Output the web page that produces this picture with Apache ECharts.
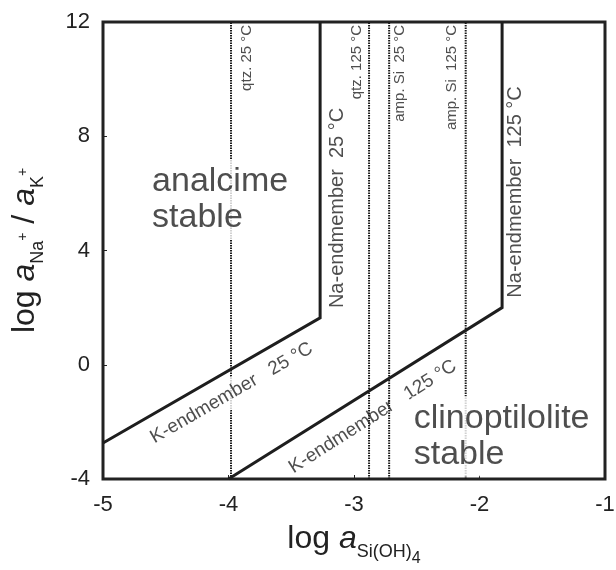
<!DOCTYPE html>
<html>
<head>
<meta charset="utf-8">
<script src="https://cdn.jsdelivr.net/npm/echarts@6/dist/echarts.min.js"></script>
<style>
html, body { margin: 0; padding: 0; background: #fff; }
#main { width: 616px; height: 570px; }
</style>
</head>
<body>
<div id="main"></div>
<script>
var myChart = echarts.init(document.getElementById('main'));

// axis ranges / ticks
var xRange = [-5, -1];
var yRange = [-4, 12];

// silica saturation lines (log a Si(OH)4)
var silicaNames = ['qtz. 25 °C', 'qtz. 125 °C', 'amp. Si 25 °C', 'amp. Si 125 °C'];
var silicaValues = [-3.98, -2.88, -2.72, -2.11];

// analcime / clinoptilolite boundaries: [log a Si(OH)4, log aNa+/aK+]
var boundary25 = [[-3.27, 12], [-3.27, 1.64], [-5, -2.74]];
var boundary125 = [[-1.82, 12], [-1.82, 2.0], [-4, -4]];

var FONT = '"Liberation Sans", Arial, sans-serif';
var INK = '#222';

// annotation texts, anchored in data space
var notes = [
    // silica line labels (vertical, anchored at top)
    { text: 'qtz. 25 °C', at: [-3.85, 11.9], rotate: 90, size: 15, align: 'right' },
    { text: 'qtz. 125 °C', at: [-2.975, 11.9], rotate: 90, size: 15, align: 'right' },
    { text: 'amp. Si  25 °C', at: [-2.635, 11.9], rotate: 90, size: 15, align: 'right' },
    { text: 'amp. Si  125 °C', at: [-2.22, 11.9], rotate: 90, size: 15, align: 'right' },
    // endmember labels
    { text: 'Na-endmember  25 °C', at: [-3.135, 5.49], rotate: 90, size: 20 },
    { text: 'Na-endmember  125 °C', at: [-1.71, 6.05], rotate: 90, size: 20 },
    { text: 'K-endmember   25 °C', at: [-3.975, -0.99], rotate: 30, size: 19, mask: true },
    { text: 'K-endmember   125 °C', at: [-2.85, -1.82], rotate: 32.5, size: 19 },
    // field names
    { text: 'analcime\nstable', at: [-4.625, 5.77], size: 34, align: 'left', mask: true, lh: 36 },
    { text: 'clinoptilolite\nstable', at: [-2.54, -2.5], size: 34, align: 'left', mask: true, lh: 36 }
];

var series = [];

silicaValues.forEach(function (x, i) {
    series.push({
        type: 'line',
        name: silicaNames[i],
        data: [[x, yRange[0]], [x, yRange[1]]],
        symbol: 'none',
        silent: true,
        z: 2,
        lineStyle: { color: '#1a1a1a', width: 2, type: [1.5, 1] }
    });
});

[boundary25, boundary125].forEach(function (b) {
    series.push({
        type: 'line',
        data: b,
        symbol: 'none',
        silent: true,
        z: 3,
        lineStyle: { color: '#1e1e1e', width: 3, join: 'miter' }
    });
});

series.push({
    type: 'scatter',
    symbolSize: 0,
    silent: true,
    z: 5,
    data: notes.map(function (n) {
        return {
            value: n.at,
            label: {
                show: true,
                position: 'inside',
                formatter: n.text,
                rotate: n.rotate || 0,
                align: n.align || 'center',
                verticalAlign: 'middle',
                fontFamily: FONT,
                fontSize: n.size,
                lineHeight: n.lh || n.size + 2,
                color: INK,
                backgroundColor: n.mask ? '#fff' : 'transparent',
                padding: n.mask ? [4, 2, 4, 2] : 0
            }
        };
    })
});

var nameRich = {
    t: { fontFamily: FONT, fontSize: 32, color: INK, verticalAlign: 'top', lineHeight: 36 },
    i: { fontFamily: FONT, fontSize: 32, color: INK, fontStyle: 'italic', verticalAlign: 'top', lineHeight: 36 },
    s: { fontFamily: FONT, fontSize: 18, color: INK, verticalAlign: 'top', lineHeight: 19, padding: [20, 0, 0, 0] },
    p: { fontFamily: FONT, fontSize: 14, color: INK, verticalAlign: 'top', lineHeight: 15, padding: [7, 0, 0, 0] },
    d: { fontFamily: FONT, fontSize: 16, color: INK, verticalAlign: 'top', lineHeight: 17, padding: [28, 0, 0, 0] }
};

var option = {
    animation: false,
    grid: {
        left: 103, right: 11, top: 22, bottom: 91,
        outerBoundsMode: 'none',
        show: true,
        borderColor: '#222',
        borderWidth: 3
    },
    xAxis: {
        type: 'value',
        min: xRange[0], max: xRange[1], interval: 1,
        name: '{t|log }{i|a}{s|Si(OH)}{d|4}',
        nameLocation: 'middle',
        nameGap: 44,
        nameTextStyle: { rich: nameRich },
        axisLine: { show: false, onZero: false },
        axisTick: { show: true, inside: true, length: 4, lineStyle: { color: INK } },
        splitLine: { show: false },
        axisLabel: { fontFamily: FONT, fontSize: 22, color: INK, margin: 15 }
    },
    yAxis: {
        type: 'value',
        min: yRange[0], max: yRange[1], interval: 4,
        name: '{t|log }{i|a}{s|Na}{p|+}{t| / }{i|a}{s|K}{p|+}',
        nameLocation: 'middle',
        nameRotate: 90,
        nameGap: 58,
        nameTextStyle: { rich: nameRich },
        axisLine: { show: false, onZero: false },
        axisTick: { show: true, inside: true, length: 4, lineStyle: { color: INK } },
        splitLine: { show: false },
        axisLabel: { fontFamily: FONT, fontSize: 22, color: INK, margin: 13 }
    },
    series: series
};

myChart.setOption(option);
</script>
</body>
</html>
